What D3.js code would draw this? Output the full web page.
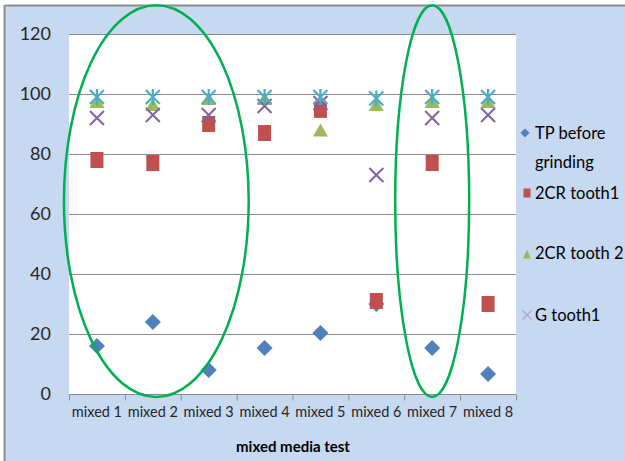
<!DOCTYPE html>
<html><head><meta charset="utf-8">
<script src="https://cdn.jsdelivr.net/npm/d3@7"></script>
<style>body{margin:0;background:#fff}svg{display:block}</style>
</head><body>
<script>
const categories = ["mixed 1","mixed 2","mixed 3","mixed 4","mixed 5","mixed 6","mixed 7","mixed 8"];
const tpBefore   = [16, 24, 8, 15.3, 20.3, 30, 15.3, 6.7];
const cr2Tooth1  = [78, 77, 90, 87, 94.7, 31, 77, 30];
const cr2Tooth2  = [97.5, 96.5, 98.5, 98.5, 88, 96.5, 97.5, 97.5];
const gTooth1    = [92, 93, 93, 96, 97, 73, 92, 93];
const gTooth2    = [99, 99, 99, 99, 99, 98.5, 99, 99];
const yTicks = [0, 20, 40, 60, 80, 100, 120];

const W = 625, H = 461;
const svg = d3.select("body").append("svg").attr("width", W).attr("height", H);
const font = "Lato, 'Open Sans', sans-serif";

// background + border
svg.append("rect").attr("x",0).attr("y",0).attr("width",W).attr("height",H).attr("fill","#fff");
svg.append("rect").attr("x",5).attr("y",6).attr("width",W).attr("height",H).attr("fill","#c6d9f1");
svg.append("line").attr("x1",5).attr("x2",W).attr("y1",5.5).attr("y2",5.5).attr("stroke","#8c8c8c").attr("stroke-width",2);
svg.append("line").attr("x1",4.5).attr("x2",4.5).attr("y1",5).attr("y2",H).attr("stroke","#8c8c8c").attr("stroke-width",2);

const L = 69, R = 516, T = 34, B = 394;
const x = d3.scaleBand().domain(categories).range([L, R]);
const y = d3.scaleLinear().domain([0, 120]).range([B, T]);

svg.append("rect").attr("x",L).attr("y",T).attr("width",R-L).attr("height",B-T).attr("fill","#fff");

// gridlines
svg.append("g").selectAll("line").data(yTicks.filter(d=>d>0)).join("line")
  .attr("x1",L).attr("x2",R).attr("y1",d=>y(d)+0.5).attr("y2",d=>y(d)+0.5)
  .attr("stroke","#8c8c8c").attr("stroke-width",1);

// y axis labels
svg.append("g").selectAll("text").data(yTicks).join("text")
  .attr("x",51).attr("y",d=>y(d)).attr("dy","0.35em").attr("text-anchor","end")
  .attr("font-family",font).attr("font-size",18).attr("fill","#262626").text(d=>d);

// x axis
const xAxis = svg.append("g").attr("transform",`translate(0,${B+0.5})`);
xAxis.append("line").attr("x1",L).attr("x2",R).attr("stroke","#8c8c8c");
const bounds = categories.map(c=>x(c)).concat([R]);
xAxis.selectAll("line.t").data(bounds).join("line").attr("class","t")
  .attr("x1",d=>d+0.5).attr("x2",d=>d+0.5).attr("y1",0).attr("y2",6).attr("stroke","#8c8c8c");
xAxis.selectAll("text").data(categories).join("text")
  .attr("x",d=>x(d)+x.bandwidth()/2).attr("y",22)
  .attr("text-anchor","middle").attr("font-family",font).attr("font-size",14.5).attr("fill","#262626").text(d=>d);
svg.append("text").attr("x",293).attr("y",452).attr("text-anchor","middle")
  .attr("font-family",font).attr("font-weight","bold").attr("font-size",15).attr("fill","#000").text("mixed media test");

const cx = (i)=>x(categories[i]) + x.bandwidth()/2;

// markers
function drawDiamond(g, px, py, s){ g.append("path").attr("d",`M${px},${py-s}L${px+s},${py}L${px},${py+s}L${px-s},${py}Z`).attr("fill","#4f81bd"); }
function drawSquare(g, px, py, w, h){ g.append("rect").attr("x",px-w/2).attr("y",py-h/2).attr("width",w).attr("height",h).attr("fill","#c0504d"); }
function drawTri(g, px, py, w, h){ g.append("path").attr("d",`M${px},${py-h/2}L${px+w/2},${py+h/2}L${px-w/2},${py+h/2}Z`).attr("fill","#9bbb59"); }
function drawX(g, px, py, s, col, sw){ g.append("path").attr("d",`M${px-s},${py-s}L${px+s},${py+s}M${px-s},${py+s}L${px+s},${py-s}`).attr("stroke",col).attr("stroke-width",sw).attr("fill","none"); }
function drawStar(g, px, py, s){ g.append("path").attr("d",`M${px-s},${py-s}L${px+s},${py+s}M${px-s},${py+s}L${px+s},${py-s}M${px},${py-s-1}L${px},${py+s+1}`).attr("stroke","#4bacc6").attr("stroke-width",2.2).attr("fill","none"); }

const gm = svg.append("g");
tpBefore.forEach((v,i)=>drawDiamond(gm, cx(i), y(v), 8));
cr2Tooth1.forEach((v,i)=>drawSquare(gm, cx(i), y(v), 13, 16));
cr2Tooth2.forEach((v,i)=>drawTri(gm, cx(i), y(v), 15, 13));
gTooth1.forEach((v,i)=>drawX(gm, cx(i), y(v), 7, "#8064a2", 2));
gTooth2.forEach((v,i)=>drawStar(gm, cx(i), y(v), 7));

// annotation ellipses (in data terms)
const ellipses = [
  {c0: 0, c1: 2, yMid: 64.3, ySpan: 65.3},
  {c0: 6, c1: 6, yMid: 64.3, ySpan: 65.3}
];
const ea = svg.append("g");
ellipses.forEach((e,k)=>{
  const left = k===0 ? cx(e.c0)-33 : cx(e.c0)-37;
  const right = k===0 ? cx(e.c1)+40 : cx(e.c1)+37;
  ea.append("ellipse").attr("cx",(left+right)/2).attr("cy",y(e.yMid))
    .attr("rx",(right-left)/2).attr("ry",y(0)-y(e.ySpan))
    .attr("fill","none").attr("stroke","#00b050").attr("stroke-width",2.5);
});

// legend
const lg = svg.append("g").attr("font-family",font).attr("font-size",16.5).attr("fill","#000");
drawDiamond(lg, 525, 133, 4.5);
lg.append("text").attr("x",535).attr("y",133).attr("dy","0.35em").text("TP before");
lg.append("text").attr("x",535).attr("y",162).attr("dy","0.35em").text("grinding");
drawSquare(lg, 527, 193, 7, 9);
lg.append("text").attr("x",535).attr("y",193).attr("dy","0.35em").text("2CR tooth1");
drawTri(lg, 527, 254, 8, 9);
lg.append("text").attr("x",535).attr("y",253).attr("dy","0.35em").text("2CR tooth 2");
drawX(lg, 527, 315, 4.5, "#b3a2c7", 1.2);
lg.append("text").attr("x",535).attr("y",315).attr("dy","0.35em").text("G tooth1");
</script>
</body></html>
